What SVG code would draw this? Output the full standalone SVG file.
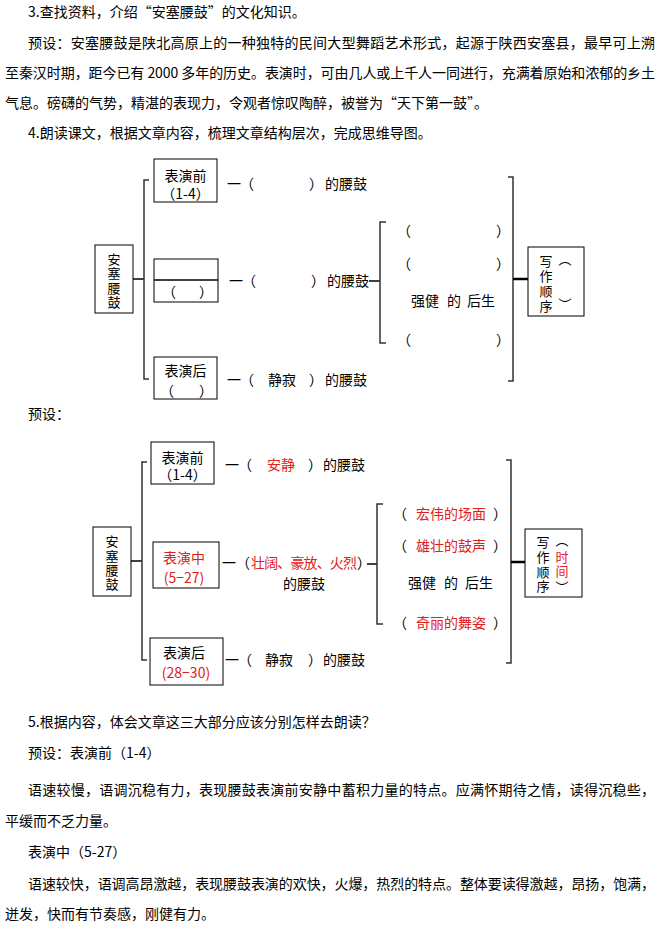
<svg xmlns="http://www.w3.org/2000/svg" width="665" height="926" viewBox="0 0 665 926">
<style>
.t{font-family:"Noto Sans CJK SC","Liberation Sans",sans-serif;font-size:14px;fill:#000;dominant-baseline:central}
.v{font-size:13px}
.m{text-anchor:middle}
.r{fill:#e02020}
.box{fill:#fff;stroke:#000;stroke-width:1}
.br{fill:none;stroke:#333;stroke-width:1.5}
.ln{fill:none;stroke:#000;stroke-width:1.5}
.th{fill:none;stroke:#000;stroke-width:2.5}
</style>
<rect width="665" height="926" fill="#fff"/>
<g id="body-top">
<text class="t" x="28" y="11">3.查找资料，介绍“安塞腰鼓”的文化知识。</text>
<text class="t" x="28" y="42" textLength="627" lengthAdjust="spacing">预设：安塞腰鼓是陕北高原上的一种独特的民间大型舞蹈艺术形式，起源于陕西安塞县，最早可上溯</text>
<text class="t" x="5" y="72" textLength="650" lengthAdjust="spacing">至秦汉时期，距今已有 2000 多年的历史。表演时，可由几人或上千人一同进行，充满着原始和浓郁的乡土</text>
<text class="t" x="5" y="102">气息。磅礴的气势，精湛的表现力，令观者惊叹陶醉，被誉为“天下第一鼓”。</text>
<text class="t" x="28" y="132">4.朗读课文，根据文章内容，梳理文章结构层次，完成思维导图。</text>
</g>
<g id="connectors">
<path class="ln" d="M133,279H144"/>
<path class="br" d="M149,180H144V379H149"/>
<path class="ln" d="M369,281H380"/>
<path class="br" d="M386,222H380V343H386"/>
<path class="br" d="M508,177H513V381H508"/>
<path class="th" d="M513,279H528"/>
<path class="ln" d="M131,561H142"/>
<path class="br" d="M147,462H142V660H147"/>
<path class="ln" d="M367,564H377"/>
<path class="br" d="M383,504H377V624H383"/>
<path class="br" d="M506,460H511V663H506"/>
<path class="th" d="M511,562H525"/>
</g>
<g id="d1-root">
<rect class="box" x="95" y="245" width="38" height="68"/>
<text class="t v m"><tspan x="114" y="258">安</tspan><tspan x="114" y="272">塞</tspan><tspan x="114" y="287">腰</tspan><tspan x="114" y="301">鼓</tspan></text>
</g>
<g id="d1-before">
<rect class="box" x="154" y="159" width="63" height="43"/>
<text class="t m" x="185.5" y="175">表演前</text>
<text class="t m" x="185.5" y="193">（1-4）</text>
</g>
<g id="d1-during">
<rect class="box" x="154" y="259" width="64" height="43"/>
<path class="ln" d="M154,280H218" stroke-width="1"/>
<text class="t" y="291"><tspan x="162">（</tspan><tspan x="199">）</tspan></text>
</g>
<g id="d1-after">
<rect class="box" x="154" y="357" width="63" height="42"/>
<text class="t m" x="185.5" y="370">表演后</text>
<text class="t" y="390"><tspan x="160">（</tspan><tspan x="199">）</tspan></text>
</g>
<g id="d1-row1">
<text class="t" y="183"><tspan x="227">一</tspan><tspan x="240">（</tspan><tspan x="309">）</tspan><tspan x="325">的腰鼓</tspan></text>
</g>
<g id="d1-row2">
<text class="t" y="280"><tspan x="229">一</tspan><tspan x="242">（</tspan><tspan x="311">）</tspan><tspan x="327">的腰鼓</tspan></text>
</g>
<g id="d1-row3">
<text class="t" y="379"><tspan x="227">一</tspan><tspan x="240">（</tspan><tspan x="268">静寂</tspan><tspan x="309">）</tspan><tspan x="325">的腰鼓</tspan></text>
</g>
<g id="d1-details">
<text class="t" y="230"><tspan x="397">（</tspan><tspan x="496">）</tspan></text>
<text class="t" y="263"><tspan x="397">（</tspan><tspan x="496">）</tspan></text>
<text class="t" y="300"><tspan x="411">强健</tspan><tspan x="447">的</tspan><tspan x="467">后生</tspan></text>
<text class="t" y="339"><tspan x="397">（</tspan><tspan x="496">）</tspan></text>
</g>
<g id="d1-order">
<rect class="box" x="528" y="247" width="56" height="69"/>
<text class="t v m"><tspan x="546" y="260">写</tspan><tspan x="546" y="275">作</tspan><tspan x="546" y="290">顺</tspan><tspan x="546" y="305">序</tspan></text>
<text class="t v m"><tspan x="565" y="258">︵</tspan><tspan x="565" y="303">︶</tspan></text>
</g>
<text class="t" x="28" y="413">预设：</text>
<g id="d2-root">
<rect class="box" x="93" y="527" width="38" height="69"/>
<text class="t v m"><tspan x="112" y="540">安</tspan><tspan x="112" y="555">塞</tspan><tspan x="112" y="569">腰</tspan><tspan x="112" y="583">鼓</tspan></text>
</g>
<g id="d2-before">
<rect class="box" x="151" y="442" width="63" height="42"/>
<text class="t m" x="182.5" y="457">表演前</text>
<text class="t m" x="182.5" y="474">（1-4）</text>
</g>
<g id="d2-during">
<rect class="box" x="153" y="542" width="66" height="46"/>
<text class="t m r" x="184" y="557">表演中</text>
<text class="t m r" x="184" y="577">(5−27)</text>
</g>
<g id="d2-after">
<rect class="box" x="150" y="638" width="73" height="47"/>
<text class="t m" x="184" y="652">表演后</text>
<text class="t m r" x="186" y="672">(28−30)</text>
</g>
<g id="d2-row1">
<text class="t" y="464"><tspan x="225">一</tspan><tspan x="238">（</tspan><tspan x="267" class="r">安静</tspan><tspan x="308">）</tspan><tspan x="323">的腰鼓</tspan></text>
</g>
<g id="d2-row2">
<text class="t" y="562"><tspan x="222">一</tspan><tspan x="236">（</tspan><tspan x="251" class="r" textLength="106" lengthAdjust="spacing">壮阔、豪放、火烈</tspan><tspan x="357">）</tspan></text>
<text class="t" x="283" y="583">的腰鼓</text>
</g>
<g id="d2-row3">
<text class="t" y="659"><tspan x="225">一</tspan><tspan x="238">（</tspan><tspan x="265">静寂</tspan><tspan x="308">）</tspan><tspan x="323">的腰鼓</tspan></text>
</g>
<g id="d2-details">
<text class="t" y="513"><tspan x="393">（</tspan><tspan x="416" class="r">宏伟的场面</tspan><tspan x="493">）</tspan></text>
<text class="t" y="545"><tspan x="393">（</tspan><tspan x="416" class="r">雄壮的鼓声</tspan><tspan x="493">）</tspan></text>
<text class="t" y="582"><tspan x="408">强健</tspan><tspan x="444">的</tspan><tspan x="465">后生</tspan></text>
<text class="t" y="622"><tspan x="393">（</tspan><tspan x="416" class="r">奇丽的舞姿</tspan><tspan x="493">）</tspan></text>
</g>
<g id="d2-order">
<rect class="box" x="525" y="529" width="57" height="68"/>
<text class="t v m"><tspan x="543" y="541">写</tspan><tspan x="543" y="556">作</tspan><tspan x="543" y="571">顺</tspan><tspan x="543" y="585">序</tspan></text>
<text class="t v m"><tspan x="562" y="539">︵</tspan><tspan x="562" y="556" class="r">时</tspan><tspan x="562" y="570" class="r">间</tspan><tspan x="562" y="586">︶</tspan></text>
</g>
<g id="body-bottom">
<text class="t" x="28" y="721">5.根据内容，体会文章这三大部分应该分别怎样去朗读？</text>
<text class="t" x="28" y="752">预设：表演前（1-4）</text>
<text class="t" x="28" y="789" textLength="627" lengthAdjust="spacing">语速较慢，语调沉稳有力，表现腰鼓表演前安静中蓄积力量的特点。应满怀期待之情，读得沉稳些，</text>
<text class="t" x="5" y="820">平缓而不乏力量。</text>
<text class="t" x="28" y="851">表演中（5-27）</text>
<text class="t" x="28" y="883" textLength="627" lengthAdjust="spacing">语速较快，语调高昂激越，表现腰鼓表演的欢快，火爆，热烈的特点。整体要读得激越，昂扬，饱满，</text>
<text class="t" x="5" y="913">迸发，快而有节奏感，刚健有力。</text>
</g>
</svg>
